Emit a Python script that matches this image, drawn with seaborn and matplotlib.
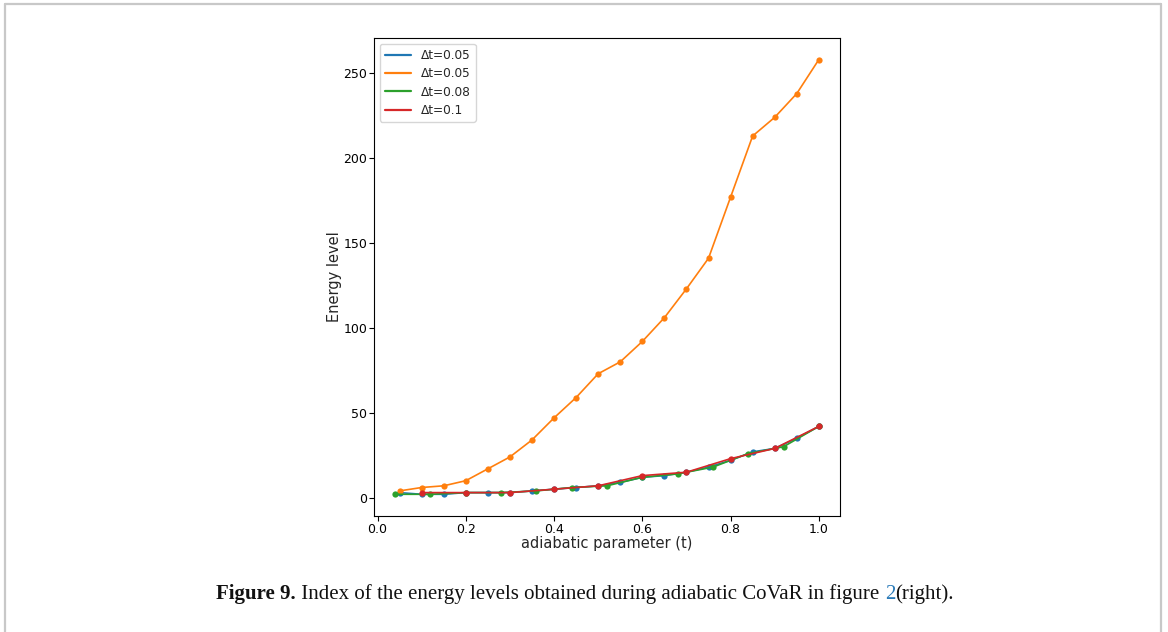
import matplotlib
matplotlib.use("Agg")
import matplotlib.pyplot as plt
import seaborn as sns
import pandas as pd
from matplotlib.lines import Line2D

# ---- data ----
x_005 = [0.05, 0.10, 0.15, 0.20, 0.25, 0.30, 0.35, 0.40, 0.45, 0.50,
         0.55, 0.60, 0.65, 0.70, 0.75, 0.80, 0.85, 0.90, 0.95, 1.00]
blue_vals = [3, 2, 2, 3, 3, 3, 4, 5, 6, 7, 9, 12, 13, 15, 18, 22, 27, 29, 35, 42]
orange_vals = [4, 6, 7, 10, 17, 24, 34, 47, 59, 73, 80, 92, 106, 123, 141,
               177, 213, 224, 238, 258]
x_008 = [0.04, 0.12, 0.20, 0.28, 0.36, 0.44, 0.52, 0.60, 0.68, 0.76, 0.84, 0.92, 1.00]
green_vals = [2, 2, 3, 3, 4, 6, 7, 12, 14, 18, 26, 30, 42]
x_01 = [0.1, 0.2, 0.3, 0.4, 0.5, 0.6, 0.7, 0.8, 0.9, 1.0]
red_vals = [3, 3, 3, 5, 7, 13, 15, 23, 29, 42]

labels = ["Δt=0.05", "Δt=0.05", "Δt=0.08", "Δt=0.1"]
colors = ["#1f77b4", "#ff7f0e", "#2ca02c", "#d62728"]
series = [(x_005, blue_vals), (x_005, orange_vals), (x_008, green_vals), (x_01, red_vals)]

sns.set_style("ticks")
plt.rcParams['font.family'] = ['DejaVu Sans']

fig = plt.figure(figsize=(11.68, 6.32), dpi=100)
ax = fig.add_axes([0.3202, 0.1835, 0.399, 0.7566])

handles = []
for (xs, ys), lab, c in zip(series, labels, colors):
    df = pd.DataFrame({"t": xs, "e": ys})
    sns.lineplot(data=df, x="t", y="e", ax=ax, color=c, linewidth=1.2,
                 marker="o", markersize=4.5, markeredgewidth=0, legend=False)
    handles.append(Line2D([0], [0], color=c, linewidth=1.6, label=lab))

ax.set_xticks([0.0, 0.2, 0.4, 0.6, 0.8, 1.0])
ax.set_yticks([0, 50, 100, 150, 200, 250])
ax.tick_params(labelsize=9, length=3.5, width=0.8, colors="black", pad=1.5)
for s in ax.spines.values():
    s.set_linewidth(0.8)
    s.set_color("black")
ax.set_xlabel("adiabatic parameter (t)", fontsize=10.5, labelpad=0)
ax.set_ylabel("Energy level", fontsize=10.5, labelpad=0.5)
ax.legend(handles=handles, loc="upper left", fontsize=8.7, frameon=True,
          handlelength=2.2, borderpad=0.4, labelspacing=0.45)

# page border (light gray, open at bottom)
for xs_, ys_ in [([5/1168, 5/1168], [0, 1 - 3.5/632]),
                 ([5/1168, 1161/1168], [1 - 3.5/632, 1 - 3.5/632]),
                 ([1161/1168, 1161/1168], [0, 1 - 3.5/632])]:
    fig.add_artist(Line2D(xs_, ys_, transform=fig.transFigure,
                          color="#c8c8c8", linewidth=1.6))

# caption
serif = ["Liberation Serif", "DejaVu Serif"]
cap_parts = [("Figure 9.", "bold", "#111111"),
             (" Index of the energy levels obtained during adiabatic CoVaR in figure ", "normal", "#111111"),
             ("2", "normal", "#2b7bb9"),
             ("(right).", "normal", "#111111")]
fig.canvas.draw()
renderer = fig.canvas.get_renderer()
texts = []
for txt, w, c in cap_parts:
    t = fig.text(0, 0, txt, fontsize=15, family=serif, weight=w, color=c,
                 ha="left", va="baseline")
    texts.append(t)
fig.canvas.draw()
widths = [t.get_window_extent(renderer).width for t in texts]
total = sum(widths)
x0 = (585 - total / 2)
ybase = 1 - 599 / 632
for t, w in zip(texts, widths):
    t.set_position((x0 / 1168, ybase))
    x0 += w

fig.savefig("out.png", dpi=100)
